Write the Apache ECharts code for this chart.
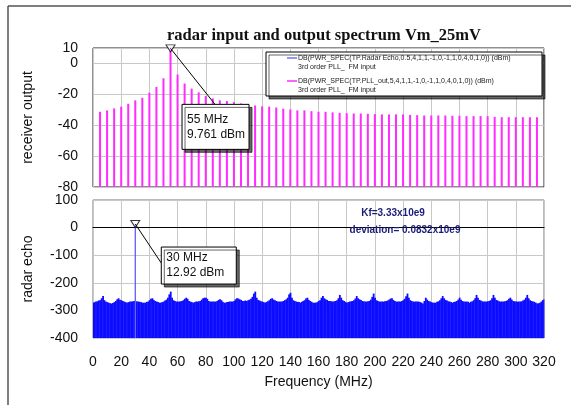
<!DOCTYPE html>
<html>
<head>
<meta charset="utf-8">
<script src="https://cdn.jsdelivr.net/npm/echarts@6/dist/echarts.min.js"></script>
<style>
html, body { margin: 0; padding: 0; background: #fff; }
#chart { width: 571px; height: 405px; }
</style>
</head>
<body>
<div id="chart"></div>
<script>
// receiver output (PLL_out spectrum), one line per harmonic, MHz / dBm
var outFreq = [5, 10, 15, 20, 25, 30, 35, 40, 45, 50, 55, 60, 65, 70, 75, 80,
  85, 90, 95, 100, 105, 110, 115, 120, 125, 130, 135, 140, 145, 150, 155, 160,
  165, 170, 175, 180, 185, 190, 195, 200, 205, 210, 215, 220, 225, 230, 235, 240,
  245, 250, 255, 260, 265, 270, 275, 280, 285, 290, 295, 300, 305, 310, 315];
var outPower = [-31.3, -30.4, -29.1, -28, -26.1, -23.9, -22.2, -18.9, -15.2, -9.6,
  9.761, -7.2, -13, -16.3, -18.7, -21.1, -22.6, -23.9, -24.3, -25,
  -25.9, -26.5, -27.2, -27.8, -28, -28.5, -29.3, -29.8, -30.4, -30.4,
  -30.9, -31.3, -31.3, -31.7, -32, -32.2, -32.4, -32.4, -32.6, -32.8,
  -33, -33, -33, -33, -33.3, -33.5, -33.7, -33.7, -33.7, -33.7,
  -33.9, -33.9, -34.1, -34.1, -34.1, -34.1, -34.6, -34.8, -34.8, -34.8,
  -34.8, -34.8, -34.8];

// radar echo spectrum, sampled every 1 MHz from 0 MHz, dBm
var echoStart = 0;
var echoStep = 1;
var echoPower = [
  -272, -270, -268, -267, -264, -263, -256, -248, -263, -268,
  -270, -272, -274, -275, -273, -270, -266, -260, -256, -261,
  -263, -266, -268, -270, -272, -270, -268, -268, -267, -266,
  12.92, -267, -268, -269, -270, -272, -272, -272, -269, -268,
  -263, -258, -256, -262, -266, -268, -270, -272, -272, -270,
  -268, -264, -261, -254, -242, -232, -254, -263, -266, -268,
  -268, -268, -267, -266, -263, -258, -254, -258, -266, -268,
  -270, -272, -270, -268, -268, -267, -266, -261, -256, -254,
  -254, -258, -266, -268, -268, -268, -268, -268, -266, -262,
  -260, -263, -269, -272, -272, -270, -269, -268, -268, -268,
  -266, -260, -256, -257, -260, -262, -266, -266, -264, -266,
  -263, -261, -258, -251, -239, -232, -254, -262, -264, -267,
  -268, -270, -272, -269, -267, -263, -258, -256, -261, -263,
  -266, -268, -268, -268, -268, -266, -263, -260, -254, -242,
  -236, -254, -263, -266, -268, -269, -270, -272, -269, -266,
  -263, -257, -254, -262, -266, -269, -272, -272, -272, -270,
  -266, -263, -254, -248, -256, -260, -262, -266, -266, -267,
  -268, -267, -266, -263, -256, -244, -254, -263, -266, -269,
  -272, -270, -268, -267, -266, -263, -257, -248, -256, -260,
  -262, -266, -267, -268, -268, -267, -266, -261, -251, -239,
  -254, -263, -266, -268, -268, -268, -268, -267, -266, -264,
  -261, -257, -256, -262, -266, -268, -268, -268, -268, -266,
  -263, -258, -249, -239, -254, -263, -266, -268, -268, -268,
  -268, -268, -270, -272, -275, -266, -254, -261, -266, -268,
  -270, -272, -272, -272, -269, -267, -263, -256, -248, -256,
  -262, -264, -267, -268, -270, -272, -270, -268, -266, -261,
  -254, -261, -266, -268, -268, -268, -269, -272, -269, -267,
  -263, -256, -244, -254, -262, -264, -267, -268, -268, -268,
  -267, -266, -263, -256, -244, -254, -262, -264, -267, -268,
  -268, -268, -267, -266, -263, -258, -254, -261, -266, -267,
  -268, -268, -268, -268, -267, -264, -261, -254, -244, -256,
  -263, -266, -268, -269, -272, -275, -274, -272, -268, -263,
  -260];

var outMarkFreq = 55;
var echoMarkFreq = 30;
var outMarkText = ['55 MHz', '9.761 dBm'];
var echoMarkText = ['30 MHz', '12.92 dBm'];
var legendNames = [
  ['DB(PWR_SPEC(TP.Radar Echo,0.5,4,1,1,-1,0,-1,1,0,4,0,1,0)) (dBm)', '3rd order PLL_  FM input'],
  ['DB(PWR_SPEC(TP.PLL_out,5,4,1,1,-1,0,-1,1,0,4,0,1,0)) (dBm)', '3rd order PLL_  FM input']
];

var FONT = '"Liberation Sans", Arial, sans-serif';
var GRID_C = '#c8c8c8';
var MAGENTA = '#ff2cff';

var outData = outFreq.map(function (f, i) { return [f, outPower[i]]; });
var echoData = echoPower.map(function (v, i) { return [echoStart + i * echoStep, v]; });
var outPeak = outPower[outFreq.indexOf(outMarkFreq)];
var echoPeak = echoPower[(echoMarkFreq - echoStart) / echoStep];

var chart = echarts.init(document.getElementById('chart'));

function xAxis(idx, withLabels) {
  return {
    type: 'value', gridIndex: idx, min: 0, max: 320, interval: 20,
    axisLine: { show: withLabels, lineStyle: { color: '#000', width: 1 } },
    axisTick: { show: false },
    axisLabel: { show: withLabels, fontSize: 14, color: '#111', fontFamily: FONT, margin: 17 },
    splitLine: { show: true, lineStyle: { color: GRID_C, width: 1 } },
    name: withLabels ? 'Frequency (MHz)' : '',
    nameLocation: 'middle', nameGap: 37,
    nameTextStyle: { fontSize: 14, color: '#111', fontFamily: FONT }
  };
}

var option = {
  animation: false,
  title: {
    text: 'radar input and output spectrum Vm_25mV',
    left: 162, top: 22,
    textStyle: { fontFamily: '"Liberation Serif", "Times New Roman", serif', fontWeight: 'bold', fontSize: 16.5, color: '#111' }
  },
  grid: [
    { left: 93, top: 48, width: 451, height: 139, show: true, borderColor: '#222', borderWidth: 1 },
    { left: 93, top: 200, width: 451, height: 138, show: true, borderColor: '#777', borderWidth: 1 }
  ],
  xAxis: [xAxis(0, false), xAxis(1, true)],
  yAxis: [
    {
      type: 'value', gridIndex: 0, min: -80, max: 10, interval: 20,
      axisLine: { show: false }, axisTick: { show: false },
      axisLabel: { fontSize: 14, color: '#111', fontFamily: FONT, margin: 15 },
      splitLine: { lineStyle: { color: GRID_C } },
      name: 'receiver output', nameLocation: 'middle', nameGap: 58,
      nameTextStyle: { fontSize: 14, color: '#111', fontFamily: FONT }
    },
    {
      type: 'value', gridIndex: 1, min: -400, max: 100, interval: 100,
      axisLine: { show: false }, axisTick: { show: false },
      axisLabel: { fontSize: 14, color: '#111', fontFamily: FONT, margin: 15 },
      splitLine: { lineStyle: { color: GRID_C } },
      name: 'radar echo', nameLocation: 'middle', nameGap: 58,
      nameTextStyle: { fontSize: 14, color: '#111', fontFamily: FONT }
    }
  ],
  series: [
    {
      name: 'PLL_out',
      type: 'custom', xAxisIndex: 0, yAxisIndex: 0,
      data: outData,
      renderItem: function (params, api) {
        var top = api.coord([api.value(0), api.value(1)]);
        var base = api.coord([api.value(0), -80]);
        return {
          type: 'line',
          shape: { x1: base[0], y1: base[1], x2: top[0], y2: top[1] },
          style: { stroke: MAGENTA, lineWidth: 2 }
        };
      }
    },
    {
      name: 'Radar Echo',
      type: 'custom', xAxisIndex: 1, yAxisIndex: 1,
      data: echoData, z: 3,
      renderItem: function (params, api) {
        var f = api.value(0), v = api.value(1);
        var half = echoStep / 2;
        var a = api.coord([Math.max(0, f - half), v]);
        var b = api.coord([Math.min(320, f + half), -400]);
        var spike = v > -200;
        if (spike) {
          var t = api.coord([f, v]);
          return {
            type: 'line',
            shape: { x1: t[0], y1: t[1], x2: t[0], y2: b[1] },
            style: { stroke: '#5050ff', lineWidth: 1.2 }
          };
        }
        return {
          type: 'rect',
          shape: { x: a[0], y: a[1], width: b[0] - a[0] + 0.4, height: b[1] - a[1] },
          style: { fill: '#0c0cff', stroke: null }
        };
      }
    },
    {
      type: 'scatter', xAxisIndex: 0, yAxisIndex: 0, clip: false,
      data: [[outMarkFreq, outPeak]],
      symbol: 'triangle', symbolRotate: 180, symbolSize: [9, 7],
      itemStyle: { color: '#fff', borderColor: '#000', borderWidth: 1 }, z: 5
    },
    {
      type: 'scatter', xAxisIndex: 1, yAxisIndex: 1, clip: false,
      data: [[echoMarkFreq, echoPeak]],
      symbol: 'triangle', symbolRotate: 180, symbolSize: [9, 7],
      itemStyle: { color: '#fff', borderColor: '#000', borderWidth: 1 }, z: 5
    }
  ]
};
chart.setOption(option);

var boxStyle = {
  fill: '#fff', stroke: '#000', lineWidth: 1,
  shadowColor: 'rgba(0,0,0,0.6)', shadowOffsetX: 3, shadowOffsetY: 3, shadowBlur: 0
};

function note(pt, dx, dy, w, h, lx, ly, lines) {
  var bx = pt[0] + dx, by = pt[1] + dy;
  return [
    { type: 'line', z: 20, shape: { x1: pt[0], y1: pt[1], x2: bx + lx, y2: by + ly }, style: { stroke: '#000', lineWidth: 1 } },
    { type: 'rect', z: 21, shape: { x: bx, y: by, width: w, height: h }, style: boxStyle },
    { type: 'text', z: 22, style: { text: lines[0], x: bx + 5, y: by + h / 2 - 7.5, fill: '#111', font: '12px ' + FONT, verticalAlign: 'middle' } },
    { type: 'text', z: 22, style: { text: lines[1], x: bx + 5, y: by + h / 2 + 7.5, fill: '#111', font: '12px ' + FONT, verticalAlign: 'middle' } }
  ];
}

var p1 = chart.convertToPixel({ gridIndex: 0 }, [outMarkFreq, outPeak]);
var p2 = chart.convertToPixel({ gridIndex: 1 }, [echoMarkFreq, echoPeak]);

var graphics = [
  { type: 'line', shape: { x1: 8, y1: 6, x2: 571, y2: 6 }, style: { stroke: '#555', lineWidth: 1.5 } },
  { type: 'line', shape: { x1: 8, y1: 6, x2: 8, y2: 405 }, style: { stroke: '#555', lineWidth: 1.5 } },
  { type: 'rect', z: 20, shape: { x: 266, y: 52, width: 276, height: 44 }, style: boxStyle },
  { type: 'line', z: 21, shape: { x1: 287, y1: 58, x2: 297, y2: 58 }, style: { stroke: '#7070ff', lineWidth: 1.5 } },
  { type: 'line', z: 21, shape: { x1: 287, y1: 81, x2: 297, y2: 81 }, style: { stroke: MAGENTA, lineWidth: 1.5 } },
  { type: 'text', z: 21, style: { text: legendNames[0][0], x: 298, y: 58, fill: '#222', font: '7px ' + FONT, verticalAlign: 'middle' } },
  { type: 'text', z: 21, style: { text: legendNames[0][1], x: 298, y: 67, fill: '#222', font: '7px ' + FONT, verticalAlign: 'middle' } },
  { type: 'text', z: 21, style: { text: legendNames[1][0], x: 298, y: 81, fill: '#222', font: '7px ' + FONT, verticalAlign: 'middle' } },
  { type: 'text', z: 21, style: { text: legendNames[1][1], x: 298, y: 90, fill: '#222', font: '7px ' + FONT, verticalAlign: 'middle' } },
  { type: 'text', z: 21, style: { text: 'Kf=3.33x10e9', x: 393, y: 213, fill: '#1c1c7a', font: 'bold 10px ' + FONT, align: 'center', verticalAlign: 'middle' } },
  { type: 'text', z: 21, style: { text: 'deviation= 0.0832x10e9', x: 405, y: 230, fill: '#1c1c7a', font: 'bold 10px ' + FONT, align: 'center', verticalAlign: 'middle' } }
];
graphics = graphics.concat(note(p1, 11.5, 56, 67, 45, 33, 0, outMarkText));
graphics = graphics.concat(note(p2, 26, 23, 75, 37, 0, 16, echoMarkText));

chart.setOption({ graphic: graphics });
</script>
</body>
</html>
